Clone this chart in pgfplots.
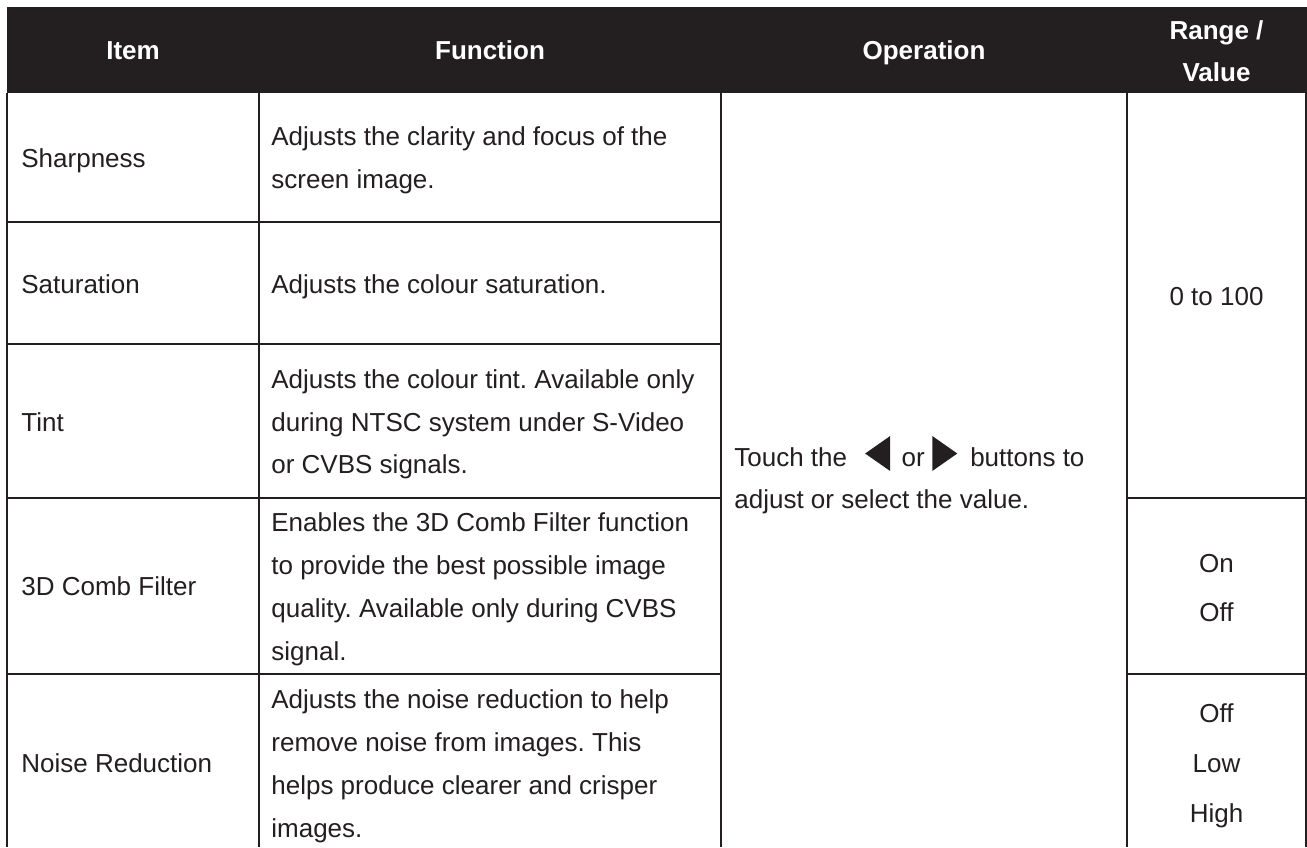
\documentclass[border=0pt]{standalone}
\usepackage{fontspec}
\setmainfont{Liberation Sans}
\usepackage{pgfplots}
\pgfplotsset{compat=1.18}
\frenchspacing
\definecolor{hdr}{HTML}{231F20}
\definecolor{txt}{HTML}{231F20}
\tikzset{
  body/.style={inner sep=0pt, anchor=base west, text=txt, font=\fontsize{13}{15}\selectfont},
  val/.style={inner sep=0pt, anchor=base, text=txt, font=\fontsize{13}{15}\selectfont},
  hd/.style={inner sep=0pt, anchor=base, text=white, font=\fontsize{13}{15}\selectfont\bfseries},
}
\pgfplotsset{rule/.style={hdr, line width=1.15pt, no markers, forget plot}}
\newcommand{\ltri}{\tikz[baseline=0pt]\fill[txt] (12.5pt,-2.5pt) -- (12.5pt,15pt) -- (0pt,6.25pt) -- cycle;}
\newcommand{\rtri}{\tikz[baseline=0pt]\fill[txt] (0pt,-2.5pt) -- (0pt,15pt) -- (12.5pt,6.25pt) -- cycle;}
\begin{document}
\begin{tikzpicture}
\begin{axis}[
  scale only axis, width=653.5pt, height=423.5pt,
  xmin=0, xmax=1307, ymin=0, ymax=847, y dir=reverse,
  hide axis, clip=true,
]
% background and header band
\addplot[draw=none, fill=white, forget plot] coordinates {(0,0) (1307,0) (1307,847) (0,847)} -- cycle;
\addplot[draw=none, fill=hdr, forget plot] coordinates {(7,7) (1307,7) (1307,93) (7,93)} -- cycle;
% vertical rules
\addplot[rule] coordinates {(7,93) (7,847)};
\addplot[rule] coordinates {(259,93) (259,847)};
\addplot[rule] coordinates {(721,93) (721,847)};
\addplot[rule] coordinates {(1127,93) (1127,847)};
\addplot[rule] coordinates {(1306,93) (1306,847)};
% horizontal rules
\addplot[rule] coordinates {(7,222) (721,222)};
\addplot[rule] coordinates {(7,344) (721,344)};
\addplot[rule] coordinates {(7,498) (721,498)};
\addplot[rule] coordinates {(1127,498) (1306,498)};
\addplot[rule] coordinates {(7,674) (721,674)};
\addplot[rule] coordinates {(1127,674) (1306,674)};
% header
\node[hd] at (axis cs:133,59.5) {Item};
\node[hd] at (axis cs:490,59.5) {Function};
\node[hd] at (axis cs:924,59.5) {Operation};
\node[hd] at (axis cs:1216.5,39.5) {Range /};
\node[hd] at (axis cs:1216.5,81.5) {Value};
% item column
\node[body] at (axis cs:21,167) {Sharpness};
\node[body] at (axis cs:21,293) {Saturation};
\node[body] at (axis cs:21,431) {Tint};
\node[body] at (axis cs:21,595.5) {3D Comb Filter};
\node[body] at (axis cs:21,772.5) {Noise Reduction};
% function column
\node[body] at (axis cs:271,145) {Adjusts the clarity and focus of the};
\node[body] at (axis cs:271,188) {screen image.};
\node[body] at (axis cs:271,293) {Adjusts the colour saturation.};
\node[body] at (axis cs:271,388) {Adjusts the colour tint. Available only};
\node[body] at (axis cs:271,431) {during NTSC system under S-Video};
\node[body] at (axis cs:271,473) {or CVBS signals.};
\node[body] at (axis cs:271,531) {Enables the 3D Comb Filter function};
\node[body] at (axis cs:271,574) {to provide the best possible image};
\node[body] at (axis cs:271,617) {quality. Available only during CVBS};
\node[body] at (axis cs:271,660) {signal.};
\node[body] at (axis cs:271,708) {Adjusts the noise reduction to help};
\node[body] at (axis cs:271,751) {remove noise from images. This};
\node[body] at (axis cs:271,794) {helps produce clearer and crisper};
\node[body] at (axis cs:271,837) {images.};
% operation column
\node[body] at (axis cs:734,466) {Touch the\hspace{9pt}\ltri\hspace{5.7pt}or\hspace{3.8pt}\rtri\hspace{6.5pt}buttons to};
\node[body] at (axis cs:734,508) {adjust or select the value.};
% range column
\node[val] at (axis cs:1216.5,305.5) {0 to 100};
\node[val] at (axis cs:1216.5,572.5) {On};
\node[val] at (axis cs:1216.5,621.5) {Off};
\node[val] at (axis cs:1216.5,722.5) {Off};
\node[val] at (axis cs:1216.5,772.5) {Low};
\node[val] at (axis cs:1216.5,822.5) {High};
\end{axis}
\end{tikzpicture}
\end{document}
